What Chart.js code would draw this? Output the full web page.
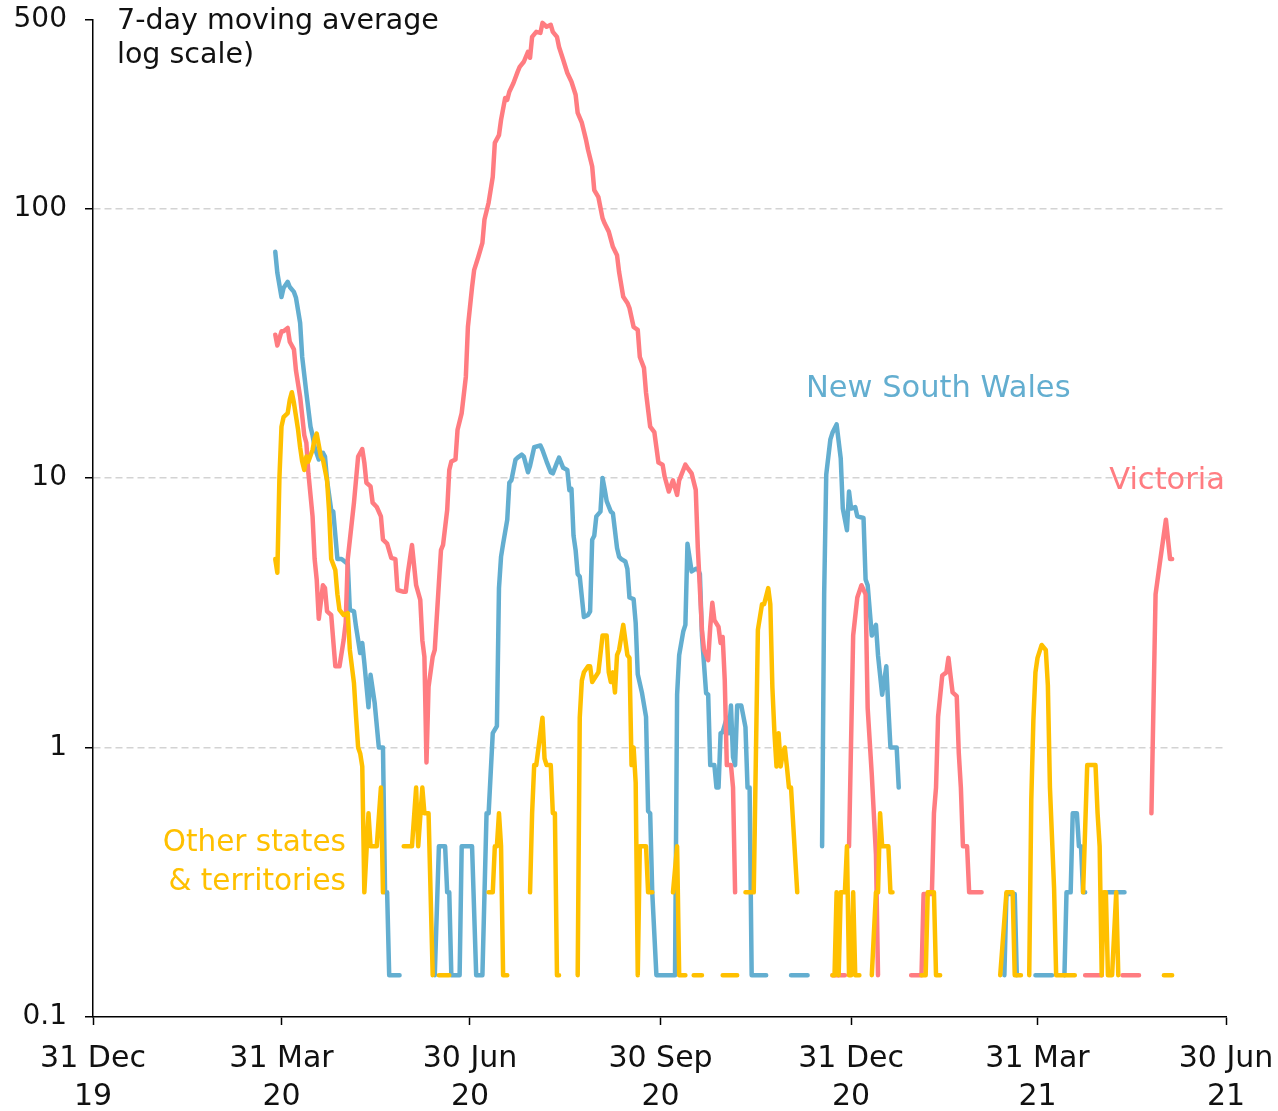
<!DOCTYPE html>
<html><head><meta charset="utf-8">
<script src="https://cdn.jsdelivr.net/npm/chart.js@4.4.0/dist/chart.umd.min.js"></script>
<style>html,body{margin:0;padding:0;background:#fff;}#wrap{width:1278px;height:1111px;}</style>
</head><body><div id="wrap"><canvas id="c" width="1278" height="1111"></canvas></div>
<script>
// x = days since 31 Dec 2019; values = 7-day moving average of new cases (0 = no cases, not drawn on log scale)
const tickDays = [0, 91, 182, 274, 366, 456, 547];
const tickLabels = [["31 Dec","19"],["31 Mar","20"],["30 Jun","20"],["30 Sep","20"],["31 Dec","20"],["31 Mar","21"],["30 Jun","21"]];
const yTicks = [0.1, 1, 10, 100, 500];
const yTickLabels = ["0.1","1","10","100","500"];

const vicDays = [88,89,91,92,94,95,97,98,100,101,102,103,104,106,107,108,109,111,112,113,115,117,119,121,122,123,126,128,130,131,132,134,135,137,139,140,142,144,146,147,150,151,152,154,156,158,159,160,161,162,164,165,167,168,169,171,172,173,175,176,178,180,181,183,184,186,188,189,191,193,194,196,197,199,200,201,203,205,206,208,210,211,212,214,216,217,219,221,222,224,225,227,229,231,233,234,236,238,239,241,242,244,246,247,249,251,253,254,256,258,259,261,263,264,266,267,269,271,273,275,276,278,280,282,283,286,287,289,291,292,294,295,297,298,299,300,302,303,304,305,306,308,309,310,330,357,363,364,365,367,369,371,373,374,376,378,379,390,395,400,401,405,406,407,408,410,412,413,414,415,417,418,419,420,422,423,429,450,479,487,492,497,505,508,511,513,515,518,520,521];
const vicVals = [34,31,35,35,36,32,30,25,20,17,14.4,13.5,10.4,7.2,5.0,4.2,3.0,4.0,3.9,3.2,3.1,2.0,2.0,2.5,2.9,5.0,8.1,12,12.8,11.4,9.6,9.3,8.1,7.8,7.2,5.9,5.7,5.05,5.0,3.84,3.78,3.78,4.44,5.64,4.0,3.53,2.5,2.17,0.88,1.68,2.17,2.3,4.08,5.4,5.64,7.6,10.7,11.5,11.7,15.1,17.4,23.7,36.3,51,59,66,74.5,91,105,131,175,187,213,257,253,271,292,321,335,350,381,362,433,452,448,488,472,480,452,433,397,356,318,295,264,226,208,180,165,143,117,110,92,88,82,72,67,58,47,44.6,42.7,36.3,35.4,28.1,25.6,20.7,15.5,14.8,11.4,11.2,10.1,8.9,9.8,8.65,9.8,11.2,10.9,10.4,9.03,5.5,2.73,2.3,2.11,2.8,3.44,2.97,2.8,2.44,2.57,1.78,0.86,0.86,0.71,0.29,0,0.143,0.143,0,0.43,2.6,3.6,4.0,3.7,1.4,0.79,0.4,0.143,0,0.143,0.143,0.286,0.286,0.57,0.71,1.3,1.85,1.9,2.15,1.85,1.6,1.55,0.95,0.71,0.43,0.43,0.29,0.29,0,0.143,0.143,0,0.143,0.143,0,0.57,3.7,4.8,7.0,5.0,5.0];

const nswDays = [88,89,91,92,94,95,97,98,100,101,103,105,106,107,109,111,112,113,115,116,118,120,123,124,126,127,129,130,131,133,134,136,138,140,141,142,143,148,156,165,167,170,171,172,173,177,178,183,185,188,190,191,193,195,196,197,198,200,201,202,204,205,207,208,210,211,212,213,216,217,219,221,222,224,225,227,229,230,231,232,233,234,235,237,239,240,241,242,243,245,246,247,248,250,251,253,254,255,257,258,259,261,262,263,265,267,268,269,270,272,281,282,283,285,286,287,289,291,292,293,294,296,297,298,300,301,302,303,304,306,307,308,309,310,311,313,315,316,317,318,325,331,337,345,349,352,353,354,356,357,359,361,362,364,365,366,368,369,372,373,374,376,378,379,381,383,384,385,388,389,415,440,441,445,446,450,455,463,466,469,470,472,473,475,476,477,478,479,485,490,498];
const nswVals = [69,57.6,46.9,50.7,53.4,51.1,49,46.6,37.6,28.1,20.7,15.5,14.4,13.0,11.7,12.4,12.0,9.8,7.6,7.5,5.0,5.0,4.8,3.24,3.2,2.8,2.24,2.44,2.06,1.41,1.86,1.46,1.0,1.0,0.29,0.29,0.143,0.143,0,0.143,0.43,0.43,0.29,0.29,0.143,0.143,0.43,0.43,0.143,0.143,0.57,0.57,1.13,1.2,3.9,5.1,5.7,7.0,9.6,9.8,11.7,11.9,12.2,12,10.5,11.1,12,13.0,13.2,12.7,11.5,10.5,10.4,11.4,11.9,10.9,10.7,9.0,9.1,6.1,5.4,4.4,4.3,3.05,3.1,3.2,5.9,6.1,7.2,7.5,10.0,9.1,8.2,7.5,7.4,5.5,5.1,5.0,4.9,4.6,3.6,3.55,2.9,1.87,1.6,1.3,0.58,0.57,0.29,0.143,0.143,1.57,2.2,2.7,2.85,5.7,4.5,4.6,4.6,4.4,2.6,1.59,1.57,0.86,0.86,0.71,0.71,1.13,1.14,1.29,1.13,1.43,0.92,0.86,1.43,1.43,1.19,0.71,0.71,0.143,0.143,0,0.143,0.143,0,0.43,3.7,10.3,13.9,14.7,15.8,11.8,7.7,6.4,8.9,7.7,7.8,7.2,7.1,4.2,4.0,2.6,2.85,2.2,1.57,2.0,1.4,1.0,1.0,0.71,0,0.143,0.286,0.286,0.143,0,0.143,0.143,0,0.143,0.29,0.29,0.57,0.57,0.43,0.43,0.29,0.29,0,0.29,0.29];

const othDays = [88,89,90,91,92,94,95,96,97,99,100,101,102,103,104,106,107,108,110,111,113,114,115,117,118,119,121,123,124,126,127,128,129,130,131,133,134,137,139,140,145,150,154,156,157,159,160,162,164,165.5,167,172,180,191,193,194,195,196,197,198,200,205,211,212,213,214,216,217,218,219,221,222,223,224,225,230,234,235,236,237,239,240,241,243,244,246,248,249,250,251,252,253,254,256,258,259,260,261,262,263,264,267,268,270,275,280,282,283,286,288,290,294,299,304,311,313,315,319,321,323,324,326,327,328,329,330,331,332,333,334,335,336,337,340,348,357,358,359,360,361,363,364,365,366,367,368,370,373,376,378,379,380,381,384,385,386,393,400,402,403,406,407,409,420,438,441,444,445,448,450,452,453,454,455,456,458,460,461,462,464,465,474,476,478,480,484,485,486,487,488,489,490,492,494,495,505,517,521];
const othVals = [5.0,4.45,10.0,15.5,16.8,17.4,19.5,20.8,19.0,15.1,13.0,11.5,10.7,12.0,11.5,12.7,14.0,14.6,12.0,11.7,9.8,7.5,5.0,4.55,3.7,3.24,3.1,3.15,2.3,1.73,1.3,1.0,0.95,0.85,0.29,0.57,0.43,0.43,0.71,0.29,0,0.43,0.43,0.71,0.43,0.71,0.57,0.57,0.143,0,0.143,0.143,0,0.29,0.29,0.43,0.43,0.57,0.43,0.143,0.143,0,0.29,0.57,0.86,0.86,1.13,1.29,0.91,0.86,0.86,0.57,0.57,0.143,0.143,0,0.143,1.29,1.77,1.9,2.0,2.0,1.75,1.85,1.9,2.6,2.6,1.9,1.75,1.9,1.6,2.2,2.3,2.85,2.2,2.15,0.86,1.0,0.74,0.143,0.43,0.43,0.29,0.29,0,0.29,0.43,0.143,0.143,0,0.143,0.143,0,0.143,0.143,0,0.29,0.29,2.73,3.4,3.4,3.9,3.4,1.67,1.13,0.85,1.13,0.85,0.95,1.0,0.85,0.71,0.71,0.29,0,0.143,0.143,0.29,0.143,0.29,0.29,0.43,0.143,0.143,0.29,0.143,0.143,0,0.143,0.29,0.29,0.57,0.43,0.43,0.29,0.29,0,0.143,0.143,0.29,0.29,0.143,0.143,0,0.143,0.29,0.29,0.143,0.143,0,0.143,0.64,1.26,1.9,2.15,2.4,2.3,1.7,0.71,0.3,0.143,0.143,0,0.29,0.86,0.86,0.57,0.43,0.143,0.29,0.29,0.143,0.143,0.29,0.143,0,0.143,0.143];

const titleLines = ["7-day moving average", "log scale)"];
const seriesNames = ["Other states & territories", "Victoria", "New South Wales"];

const FONT = '"DejaVu Sans", sans-serif';
const COL_NSW = '#63aed0';
const COL_VIC = '#ff7c81';
const COL_OTH = '#ffc000';

function toPoints(days, vals) {
  return days.map((d, i) => ({ x: d, y: vals[i] > 0 ? vals[i] : null }));
}

const labelsPlugin = {
  id: 'seriesLabels',
  afterDatasetsDraw(chart) {
    const { ctx, chartArea, scales } = chart;
    const x = scales.x, y = scales.y;
    ctx.save();
    ctx.textBaseline = 'middle';
    ctx.font = '28.5px ' + FONT;
    ctx.fillStyle = '#111';
    ctx.textAlign = 'left';
    ctx.fillText(titleLines[0], chartArea.left + 24, chartArea.top + 2);
    ctx.fillText(titleLines[1], chartArea.left + 24, chartArea.top + 36);

    ctx.fillStyle = COL_NSW;
    ctx.font = '30.5px ' + FONT;
    ctx.fillText(seriesNames[2], x.getPixelForValue(344.2), y.getPixelForValue(21.4));

    ctx.fillStyle = COL_VIC;
    ctx.font = '30.5px ' + FONT;
    ctx.textAlign = 'right';
    ctx.fillText(seriesNames[1], x.getPixelForValue(546.5), y.getPixelForValue(9.75));

    ctx.fillStyle = COL_OTH;
    ctx.font = '29.5px ' + FONT;
    ctx.fillText("Other states", x.getPixelForValue(122.1), y.getPixelForValue(0.44));
    ctx.fillText("& territories", x.getPixelForValue(122.1), y.getPixelForValue(0.317));
    ctx.restore();
  }
};

const lineStyle = { borderWidth: 4.5, pointRadius: 0, tension: 0, spanGaps: false, borderCapStyle: 'round', borderJoinStyle: 'round', fill: false };

new Chart(document.getElementById('c'), {
  type: 'line',
  data: {
    datasets: [
      Object.assign({ label: seriesNames[0], data: toPoints(othDays, othVals), borderColor: COL_OTH }, lineStyle),
      Object.assign({ label: seriesNames[1], data: toPoints(vicDays, vicVals), borderColor: COL_VIC }, lineStyle),
      Object.assign({ label: seriesNames[2], data: toPoints(nswDays, nswVals), borderColor: COL_NSW }, lineStyle)
    ]
  },
  options: {
    responsive: false,
    animation: false,
    devicePixelRatio: 1,
    layout: { padding: { top: 20, right: 52, left: 0, bottom: 0 } },
    plugins: { legend: { display: false }, tooltip: { enabled: false } },
    scales: {
      x: {
        type: 'linear',
        min: 0, max: 547,
        afterBuildTicks: (s) => { s.ticks = tickDays.map(v => ({ value: v })); },
        afterFit: (s) => { s.height = 94; s.paddingLeft = 0; s.paddingRight = 0; },
        ticks: {
          autoSkip: false, maxRotation: 0,
          padding: 15,
          color: '#111',
          font: { family: FONT, size: 30, lineHeight: 1.27 },
          callback: (v) => tickLabels[tickDays.indexOf(v)]
        },
        grid: { drawOnChartArea: false, drawTicks: true, tickLength: 8, tickColor: '#000', tickWidth: 1.5 },
        border: { display: true, color: '#000', width: 1.5 }
      },
      y: {
        type: 'logarithmic',
        min: 0.1, max: 500,
        afterBuildTicks: (s) => { s.ticks = yTicks.map(v => ({ value: v })); },
        afterFit: (s) => { s.width = 93; s.paddingTop = 0; s.paddingBottom = 0; },
        ticks: {
          autoSkip: false,
          padding: 18,
          color: '#111',
          font: { family: FONT, size: 28 },
          callback: (v) => yTickLabels[yTicks.indexOf(v)]
        },
        grid: {
          drawTicks: true, tickLength: 8, tickColor: '#000', tickWidth: 1.5,
          lineWidth: 1.5,
          color: (c) => (c.tick && [1, 10, 100].includes(c.tick.value)) ? '#d3d3d3' : 'rgba(0,0,0,0)'
        },
        border: { display: true, color: '#000', width: 1.5, dash: [7, 4] }
      }
    }
  },
  plugins: [labelsPlugin]
});
</script>
</body></html>
